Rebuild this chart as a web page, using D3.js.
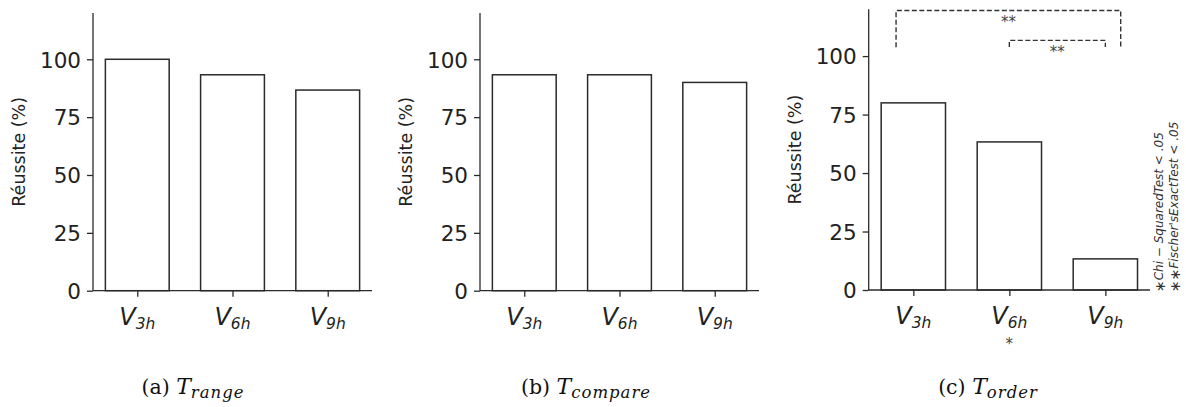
<!DOCTYPE html>
<html><head><meta charset="utf-8">
<script src="https://cdn.jsdelivr.net/npm/d3@7"></script>
<style>body{margin:0;background:#fff}svg{display:block}</style>
</head><body>
<svg id="c" width="1186" height="407"></svg>
<script>
const categories = ["V3h", "V6h", "V9h"];
const subscripts = ["3h", "6h", "9h"];
const valuesRange = [100, 93.3, 86.7];
const valuesCompare = [93.3, 93.3, 90];
const valuesOrder = [80, 63.3, 13.3];
const yTicks = [0, 25, 50, 75, 100];
const captionLetters = ["(a)", "(b)", "(c)"];
const captionSubs = ["range", "compare", "order"];
const brackets = [
  {from: -0.18, to: 2.16, top: 119.5, bottom: 103.8, label: "**"},
  {from: 1, to: 2, top: 106.7, bottom: 103.9, label: "**"}
];
const belowMarks = [{cat: 1, label: "*"}];
const footnoteStars = ["\u2217", "\u2217\u2217"];
const footnotes = ["Chi \u2212 SquaredTest < .05", "Fischer'sExactTest < .05"];

const svg = d3.select("#c");
const ink = "#2b2b2b";
const panels = [
  {vals: valuesRange, x0: 93, x1: 372, yb: 290.7, yt: 13, cx: 193},
  {vals: valuesCompare, x0: 480, x1: 759, yb: 290.7, yt: 13, cx: 586},
  {vals: valuesOrder, x0: 868.7, x1: 1150, yb: 290, yt: 9.3, cx: 988}
];

panels.forEach((p, pi) => {
  const g = svg.append("g");
  const x = d3.scaleLinear().domain([-0.465, 2.465]).range([p.x0, p.x1]);
  const y = d3.scaleLinear().domain([0, 120]).range([p.yb, p.yt]);
  const bw = 0.67;
  g.selectAll("rect.bar").data(p.vals).join("rect")
    .attr("x", (d, i) => x(i - bw / 2))
    .attr("width", (d, i) => x(i + bw / 2) - x(i - bw / 2))
    .attr("y", d => y(d))
    .attr("height", d => y(0) - y(d))
    .attr("fill", "#fff").attr("stroke", ink).attr("stroke-width", 1.5);
  const ya = d3.axisLeft(y).tickValues(yTicks).tickSize(6).tickPadding(6);
  const yg = g.append("g").attr("transform", `translate(${p.x0},0)`).call(ya);
  yg.select(".domain").attr("stroke", ink).attr("stroke-width", 1.3).attr("d", `M-0,${p.yb}V${p.yt}`);
  yg.selectAll(".tick line").attr("stroke", ink).attr("stroke-width", 1.3);
  yg.selectAll(".tick text").attr("font-family", "DejaVu Sans").attr("font-size", 21.5).attr("fill", "#222").attr("dy", "0.36em");
  const xa = d3.axisBottom(x).tickValues([0, 1, 2]).tickSize(6).tickFormat("");
  const xg = g.append("g").attr("transform", `translate(0,${p.yb})`).call(xa);
  xg.select(".domain").attr("stroke", ink).attr("stroke-width", 1.3).attr("d", `M${p.x0},0H${p.x1}`);
  xg.selectAll(".tick line").attr("stroke", ink).attr("stroke-width", 1.3);
  categories.forEach((c, i) => {
    const t = g.append("text").attr("x", x(i)).attr("y", p.yb + 34)
      .attr("text-anchor", "middle").attr("font-family", "DejaVu Sans")
      .attr("font-style", "italic").attr("fill", "#222");
    t.append("tspan").attr("font-size", 24).text(c[0]);
    t.append("tspan").attr("font-size", 15.5).attr("dy", 4).text(subscripts[i]);
  });
  g.append("text").attr("transform", `translate(${p.x0 - 68},${(p.yb + p.yt) / 2}) rotate(-90)`)
    .attr("text-anchor", "middle").attr("font-family", "DejaVu Sans").attr("font-size", 17.5)
    .attr("fill", "#222").text("Réussite (%)");
  const cap = g.append("text").attr("x", p.cx).attr("y", 394).attr("text-anchor", "middle")
    .attr("font-family", "DejaVu Serif").attr("font-size", 20.5).attr("fill", "#111");
  cap.append("tspan").text(captionLetters[pi] + "\u00a0");
  cap.append("tspan").attr("font-style", "italic").attr("font-size", 22).text("T");
  cap.append("tspan").attr("font-style", "italic").attr("font-size", 16.5).attr("dy", 4).attr("letter-spacing", 1).text(captionSubs[pi]);

  if (pi === 2) {
    brackets.forEach(b => {
      g.append("path")
        .attr("d", `M${x(b.from)},${y(b.bottom)}V${y(b.top)}H${x(b.to)}V${y(b.bottom)}`)
        .attr("fill", "none").attr("stroke", "#333").attr("stroke-width", 1.4)
        .attr("stroke-dasharray", "5,2.5");
      g.append("text").attr("x", (x(b.from) + x(b.to)) / 2).attr("y", y(b.top) + 17)
        .attr("text-anchor", "middle").attr("font-family", "DejaVu Sans").attr("font-size", 15)
        .attr("fill", "#444").text(b.label);
    });
    belowMarks.forEach(m => {
      g.append("text").attr("x", x(m.cat)).attr("y", p.yb + 59).attr("text-anchor", "middle")
        .attr("font-family", "DejaVu Sans").attr("font-size", 15).attr("fill", "#444").text(m.label);
    });
    footnotes.forEach((f, i) => {
      const t = g.append("text").attr("transform", `translate(${1165 + i * 15},${p.yb + 2}) rotate(-90)`)
        .attr("font-family", "DejaVu Sans").attr("fill", "#333");
      t.append("tspan").attr("font-size", 14).text(footnoteStars[i]);
      t.append("tspan").attr("font-style", "italic").attr("font-size", 12).attr("dy", -2).text(f);
    });
  }
});
</script>
</body></html>
